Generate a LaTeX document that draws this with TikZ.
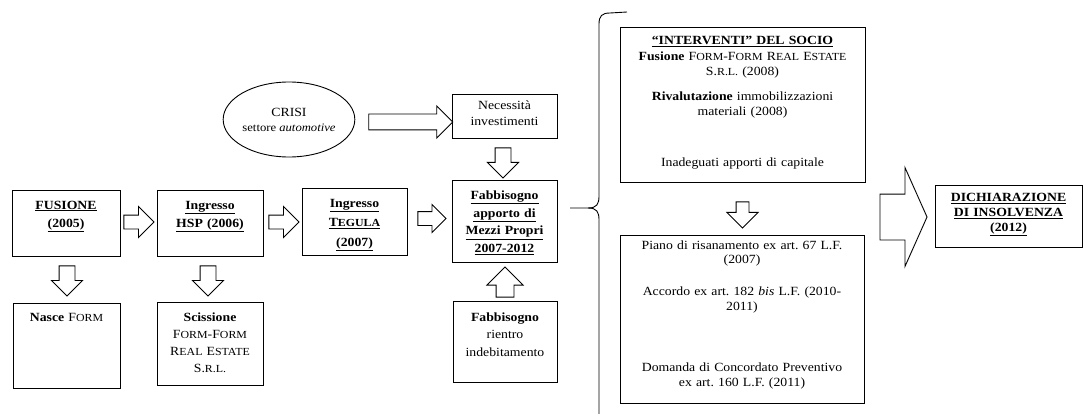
\documentclass[tikz,border=0pt]{standalone}
\usepackage{fontspec}
\setmainfont{Liberation Serif}[FakeStretch=1.1]
\usetikzlibrary{shapes.geometric,shapes.arrows,calc}
\frenchspacing
\newcommand{\fsc}[2]{#1{\fontsize{10.8}{15}\selectfont #2}}
\begin{document}
\begin{tikzpicture}[x=1pt, y=-1pt,
    every node/.style={font=\fontsize{12.5}{15}\selectfont},
    box/.style={draw, line width=0.9pt, inner sep=0pt, align=center},
    crisis/.style={ellipse, draw, line width=0.9pt, inner sep=0pt, align=center, minimum width=102pt, minimum height=75pt},
    fat/.style={single arrow, draw, line width=0.9pt, inner xsep=0pt, inner ysep=6.5pt, single arrow head extend=8.5pt, minimum height=30pt},
    fatdown/.style={single arrow, draw, line width=0.9pt, inner sep=7.5pt, single arrow head extend=7.5pt, minimum height=30pt, shape border rotate=270}
    ]
    \useasboundingbox (0,0) rectangle (1083,414);

    % Main line
    \node[box, text width=108pt, text height=19pt, text depth=47pt] (fus) at (66,223)
        {\textbf{\underline{FUSIONE}}\\[3pt]\textbf{\underline{(2005)}}};
    \node[box, text width=106pt, text height=19pt, text depth=47pt] (hsp) at (210,223)
        {\textbf{\underline{Ingresso}}\\[3pt]\textbf{\underline{HSP (2006)}}};
    \node[box, text width=105pt, text height=19.5pt, text depth=47.5pt] (teg) at (354.5,221.5)
        {\textbf{\underline{Ingresso}}\\[4.5pt]\textbf{\underline{\fsc{T}{EGULA}}}\\[4.5pt]\textbf{\underline{(2007)}}};
    \node[box, text width=105pt, text height=19.5pt, text depth=62.5pt] (fabb) at (504.5,221)
        {\textbf{\underline{Fabbisogno}}\\[2.7pt]\textbf{\underline{apporto di}}\\[2.7pt]\textbf{\underline{Mezzi Propri}}\\[2.7pt]\textbf{\underline{2007-2012}}};

    % Lower boxes
    \node[box, text width=107pt, text height=18.5pt, text depth=66.5pt] (nasce) at (66.5,345.5)
        {\textbf{Nasce} \fsc{F}{ORM}};
    \node[box, text width=106pt, text height=19.5pt, text depth=63.5pt] (sciss) at (210,343.5)
        {\textbf{Scissione}\\[2pt]\fsc{F}{ORM}-\fsc{F}{ORM}\\[2pt]\fsc{R}{EAL} \fsc{E}{STATE}\\[2pt]\fsc{S.}{R.L.}};
    \node[box, text width=104pt, text height=20pt, text depth=61pt] (rientro) at (505,341.5)
        {\textbf{Fabbisogno}\\[2.5pt]rientro\\[2.5pt]indebitamento};

    % Upper part
    \node[crisis] (crisi) at (289,119.5)
        {CRISI\\{\fontsize{11.5}{13}\selectfont settore \textit{automotive}}};
    \node[box, text width=105pt, text height=16pt, text depth=28pt] (neces) at (504.5,116)
        {Necessità\\[1pt]investimenti};

    % Right part
    \node[box, text width=245pt, text height=18pt, text depth=137pt] (interv) at (742.5,104.5)
        {\textbf{\underline{“INTERVENTI” DEL SOCIO}}\\[1pt]
         \textbf{Fusione} \fsc{F}{ORM}-\fsc{F}{ORM} \fsc{R}{EAL} \fsc{E}{STATE}\\
         \fsc{S.}{R.L.} (2008)\\[10pt]
         \textbf{Rivalutazione} immobilizzazioni\\
         materiali (2008)\\[36pt]
         Inadeguati apporti di capitale};
    \node[box, text width=244pt, text height=14pt, text depth=154pt] (piano) at (742,319)
        {Piano di risanamento ex art. 67 L.F.\\[-1pt]
         (2007)\\[17pt]
         Accordo ex art. 182 \textit{bis} L.F. (2010-\\
         2011)\\[46pt]
         Domanda di Concordato Preventivo\\
         ex art. 160 L.F. (2011)};
    \node[box, text width=147pt, text height=16.5pt, text depth=45.5pt] (dich) at (1008.5,216)
        {\textbf{\underline{DICHIARAZIONE}}\\\textbf{\underline{DI INSOLVENZA}}\\\textbf{\underline{(2012)}}};

    % Block arrows
    \node[fat, anchor=tail] (a1) at ($(fus.east)+(3,-1)$) {};
    \node[fat, anchor=tail] (a2) at ($(hsp.east)+(5,-1)$) {};
    \node[fat, anchor=tail, minimum height=28pt, single arrow head extend=7pt] (a3) at ($(teg.east)+(10,-3)$) {};
    \node[fatdown, anchor=tail] (a4) at ($(fus.south)+(1,9)$) {};
    \node[fatdown, anchor=tail] (a5) at ($(hsp.south)+(-2,9)$) {};
    \node[fat, anchor=tail, inner ysep=7.5pt, single arrow head extend=8pt, minimum height=84pt] (a6) at ($(crisi.east)+(13,2.5)$) {};
    \node[fatdown, anchor=tail] (a7) at ($(neces.south)+(-1.5,9)$) {};
    \node[fatdown, anchor=tail, shape border rotate=90, inner sep=8.5pt, single arrow head extend=9pt] (a8) at ($(rientro.north)+(0,-3)$) {};
    \node[fatdown, anchor=tail, inner sep=6pt, single arrow head extend=9pt, minimum height=26pt] (a9) at ($(interv.south)+(0,19)$) {};
    \node[fat, anchor=tail, inner ysep=22.5pt, single arrow head extend=26.5pt, minimum height=47pt, single arrow tip angle=132] (a10) at ($(dich.west)+(-55,1)$) {};

    % Brace
    \coordinate (btip) at (570,208);
    \draw[line width=0.9pt] (627,12) -- (610,13) .. controls (602,13) and (599,16) .. (599,24) -- (599,196)
        .. controls (599,204) and (597,208) .. (588,208) -- (btip);
    \draw[line width=0.9pt] (588,208) .. controls (597,208) and (599,212) .. (599,220) -- (599,414);

\end{tikzpicture}
\end{document}
